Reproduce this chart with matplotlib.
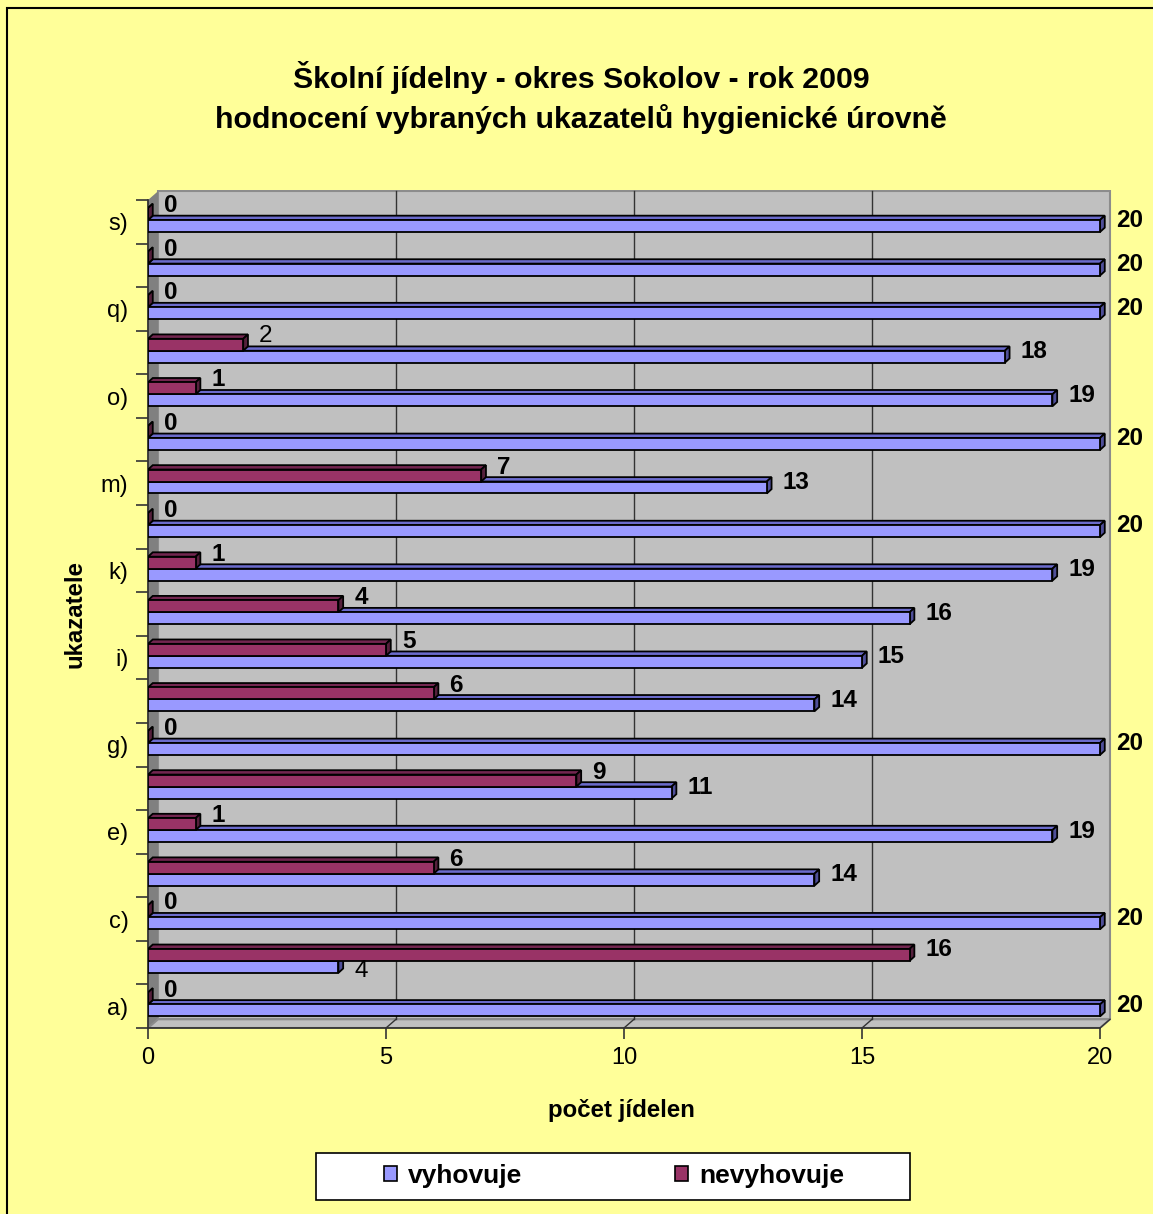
import matplotlib
matplotlib.use("Agg")
import matplotlib.pyplot as plt
import numpy as np
from matplotlib.patches import Polygon, Rectangle, Patch

plt.rcParams["font.family"] = ["Liberation Sans", "DejaVu Sans"]

categories = ["a)", "b)", "c)", "d)", "e)", "f)", "g)", "h)", "i)", "j)",
              "k)", "l)", "m)", "n)", "o)", "p)", "q)", "r)", "s)"]
vyhovuje = [20, 4, 20, 14, 19, 11, 20, 14, 15, 16, 19, 20, 13, 20, 19, 18, 20, 20, 20]
nevyhovuje = [0, 16, 0, 6, 1, 9, 0, 6, 5, 4, 1, 0, 7, 0, 1, 2, 0, 0, 0]
x_ticks = [0, 5, 10, 15, 20]

title_1 = "Školní jídelny - okres Sokolov - rok 2009"
title_2 = "hodnocení vybraných ukazatelů hygienické úrovně"

# labels that Excel left in regular weight (series, category index)
plain_labels = {("nevyhovuje", 15), ("vyhovuje", 1)}
# hand-moved labels, offsets in points
label_nudge = {("vyhovuje", 1): (0, -6.5), ("nevyhovuje", 1): (0, -2.5)}

W, H = 1153, 1214
BG = "#FFFF99"
WALL = "#C0C0C0"
SIDE = "#808080"
BLUE = ("#9999FF", "#6B6BCC", "#4F4F99")      # front, top, end
MAROON = ("#993366", "#732650", "#55203C")

# depth of walls and bars in data units
WALL_DX, WALL_DY = 0.21, 0.2
BAR_DX, BAR_DY = 0.1, 0.1


def px_rect(left, top, right, bottom):
    return [left / W, 1 - bottom / H, (right - left) / W, (bottom - top) / H]


def bar3d(ax, v, y0, y1, colors):
    front, top, end = colors
    kw = dict(closed=True, edgecolor="black", lw=1.3, joinstyle="miter")
    ax.add_patch(Polygon([(0, y1), (v, y1), (v + BAR_DX, y1 + BAR_DY),
                          (BAR_DX, y1 + BAR_DY)], facecolor=top, **kw))
    ax.add_patch(Polygon([(v, y0), (v + BAR_DX, y0 + BAR_DY),
                          (v + BAR_DX, y1 + BAR_DY), (v, y1)], facecolor=end, **kw))
    ax.add_patch(Polygon([(0, y0), (v, y0), (v, y1), (0, y1)], facecolor=front, **kw))


fig = plt.figure(figsize=(W / 100, H / 100), dpi=100, facecolor=BG)

# outer chart-area border (right and bottom fall outside the image)
fig.patches.append(Rectangle((7 / W, -0.1), 1.2, 1 - 8 / H + 0.1,
                             transform=fig.transFigure, fill=False,
                             edgecolor="black", lw=1.5))

ax = fig.add_axes(px_rect(148, 190, 1112, 1028))
n = len(categories)
ax.set_xlim(0, 964 / 47.6)
ax.set_ylim(-0.5, -0.5 + 838 / 43.58)
ax.patch.set_visible(False)
for s in ax.spines.values():
    s.set_visible(False)

y_lo, y_hi = -0.5, n - 0.5
x_hi = x_ticks[-1]

# back wall, side wall, floor
ax.add_patch(Rectangle((WALL_DX, y_lo + WALL_DY), x_hi, n, facecolor=WALL,
                       edgecolor="#8C8C8C", lw=1.5, zorder=0))
ax.add_patch(Polygon([(0, y_lo), (WALL_DX, y_lo + WALL_DY), (WALL_DX, y_hi + WALL_DY),
                      (0, y_hi)], closed=True, facecolor=SIDE, edgecolor="none", zorder=0))
ax.add_patch(Polygon([(0, y_lo), (x_hi, y_lo), (x_hi + WALL_DX, y_lo + WALL_DY),
                      (WALL_DX, y_lo + WALL_DY)], closed=True, facecolor=WALL,
                     edgecolor="#8C8C8C", lw=1.5, zorder=0))
for xt in x_ticks[1:-1]:
    ax.plot([xt + WALL_DX] * 2, [y_lo + WALL_DY, y_hi + WALL_DY], color="#333333",
            lw=1, zorder=0.5)
for xt in x_ticks[1:]:
    ax.plot([xt, xt + WALL_DX], [y_lo, y_lo + WALL_DY], color="#333333", lw=1,
            zorder=0.5, clip_on=False)

ax.plot([0, 0], [y_lo, y_hi], color="#333333", lw=1.3, zorder=1, clip_on=False)
ax.plot([0, x_hi], [y_lo, y_lo], color="#333333", lw=1.3, zorder=1, clip_on=False)

# bars, bottom to top so upper front faces hide lower top faces
for i in range(n):
    bar3d(ax, vyhovuje[i], i - 0.235, i + 0.04, BLUE)
    bar3d(ax, nevyhovuje[i], i + 0.04, i + 0.315, MAROON)

for i in range(n):
    for name, vals, dy in (("vyhovuje", vyhovuje, 0.02), ("nevyhovuje", nevyhovuje, 0.37)):
        weight = "normal" if (name, i) in plain_labels else "bold"
        ox, oy = label_nudge.get((name, i), (0, 0))
        ax.annotate(str(vals[i]), (vals[i] + BAR_DX, i + dy), xytext=(8 + ox, oy),
                    textcoords="offset points", ha="left", va="center",
                    fontsize=17.5, fontweight=weight, annotation_clip=False)

ax.set_xticks(x_ticks)
ax.tick_params(axis="x", length=8, width=1.2, color="#333333", pad=6, labelsize=17)
ax.set_yticks(np.arange(n)[::2], labels=categories[::2])
ax.set_yticks(np.arange(n + 1) - 0.5, minor=True)
ax.tick_params(axis="y", which="major", length=0, pad=14, labelsize=17)
ax.tick_params(axis="y", which="minor", length=9, width=1.2, color="#333333")

fig.text(581 / W, 1 - 78 / H, title_1, ha="center", va="center",
         fontsize=21.8, fontweight="bold")
fig.text(581 / W, 1 - 119 / H, title_2, ha="center", va="center",
         fontsize=21.8, fontweight="bold")
fig.text(621 / W, 1 - 1110 / H, "počet jídelen", ha="center", va="center",
         fontsize=17.3, fontweight="bold")
fig.text(75 / W, 1 - 614 / H, "ukazatele", ha="center", va="center",
         rotation=90, fontsize=17.3, fontweight="bold")

# legend box
fig.patches.append(Rectangle((316 / W, 1 - 1200 / H), 594 / W, 47 / H,
                             transform=fig.transFigure, facecolor="white",
                             edgecolor="black", lw=1.2))
handles = [Patch(facecolor=BLUE[0], edgecolor="black", lw=1.2),
           Patch(facecolor=MAROON[0], edgecolor="black", lw=1.2)]
fig.legend(handles, ["vyhovuje", "nevyhovuje"], loc="center",
           bbox_to_anchor=(614 / W, 1 - 1176 / H), ncol=2, frameon=False,
           handlelength=0.5, handleheight=0.5, handletextpad=0.4,
           columnspacing=5.8, prop=dict(size=19, weight="bold"))

fig.savefig("out.png", dpi=100, facecolor=BG)
